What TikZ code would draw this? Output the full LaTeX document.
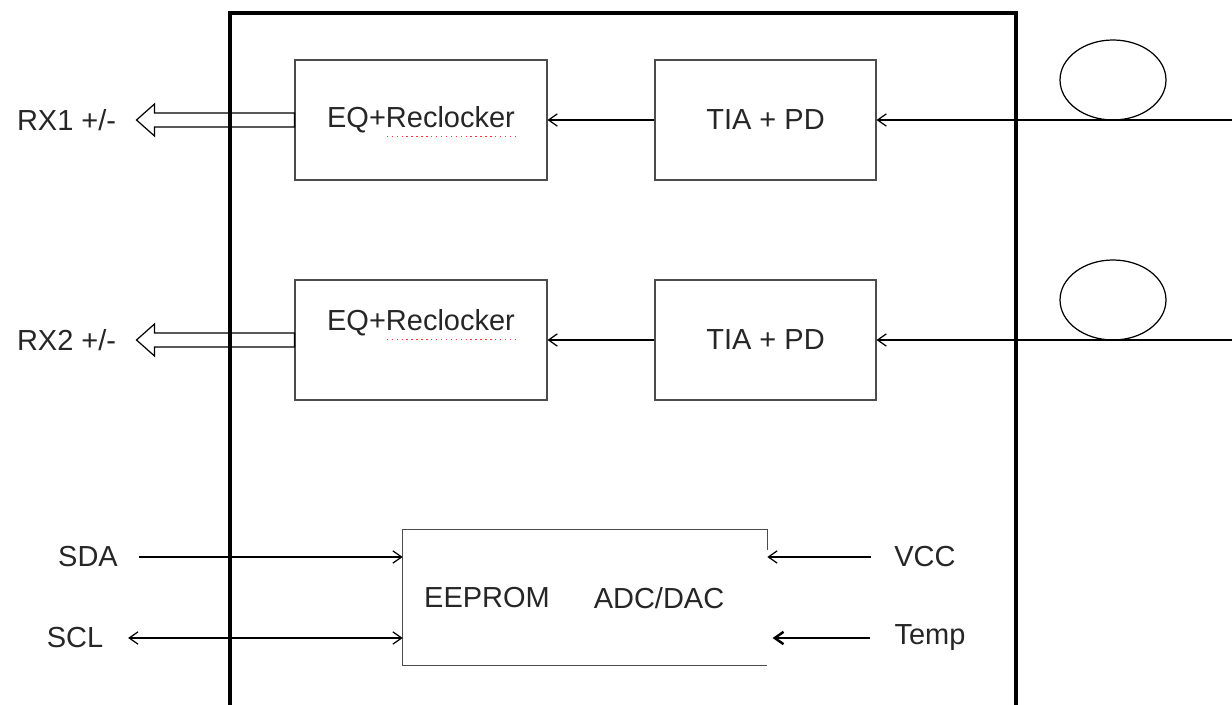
\documentclass[tikz,border=0pt]{standalone}
\usepackage{fontspec}
\setmainfont{Liberation Sans}
\usetikzlibrary{arrows.meta,calc}

\tikzset{
  blk/.style={draw=black!70,line width=0.6pt,inner sep=0pt,minimum height=2.4cm},
  lbl/.style={font=\fontsize{16.5}{19}\selectfont,text=black!85,inner sep=0pt},
  sig/.style={line width=0.7pt,-{Straight Barb[length=5pt,width=7pt]}},
}

\begin{document}
\begin{tikzpicture}[x=0.02cm,y=-0.02cm]
  \useasboundingbox (0,0) rectangle (1232,705);
  % Receiver channel 1
  \node[blk,minimum width=5.04cm] (eqa) at (421,120) {};
  \node[lbl] (eqat) at (421,120) {EQ+Reclocker};
  \node[blk,minimum width=4.42cm] (tiaa) at (765.5,120) {};
  \node[lbl] (tiaat) at (765.5,120) {TIA + PD};
  \coordinate (fa) at (1232,120);
  \draw[sig] (fa) -- (tiaa);
  \draw[sig] (tiaa) -- (eqa);
  \draw[line width=0.7pt] ($(fa)+(-119,-40)$) ellipse [x radius=1.06cm, y radius=0.8cm];
  \draw[red!80,dotted,line width=0.8pt] ($(eqat.south west)+(60,3)$) -- ($(eqat.south east)+(0,3)$);
  % Hollow output arrow RX1
  \draw[line width=0.7pt] ($(eqa.west)+(0,-7)$) -- ++(-140,0) -- ++(0,-9) -- ++(-18,16)
    -- ++(18,16) -- ++(0,-9) -- ($(eqa.west)+(0,7)$) -- cycle;
  \node[lbl,anchor=east] (rxa) at ($(eqa.west)+(-178,0)$) {RX1 +/-};
  % Receiver channel 2
  \node[blk,minimum width=5.04cm] (eqb) at (421,340) {};
  \node[lbl] (eqbt) at (421,323) {EQ+Reclocker};
  \node[blk,minimum width=4.42cm] (tiab) at (765.5,340) {};
  \node[lbl] (tiabt) at (765.5,340) {TIA + PD};
  \coordinate (fb) at (1232,340);
  \draw[sig] (fb) -- (tiab);
  \draw[sig] (tiab) -- (eqb);
  \draw[line width=0.7pt] ($(fb)+(-119,-40)$) ellipse [x radius=1.06cm, y radius=0.8cm];
  \draw[red!80,dotted,line width=0.8pt] ($(eqbt.south west)+(60,3)$) -- ($(eqbt.south east)+(0,3)$);
  % Hollow output arrow RX2
  \draw[line width=0.7pt] ($(eqb.west)+(0,-7)$) -- ++(-140,0) -- ++(0,-9) -- ++(-18,16)
    -- ++(18,16) -- ++(0,-9) -- ($(eqb.west)+(0,7)$) -- cycle;
  \node[lbl,anchor=east] (rxb) at ($(eqb.west)+(-178,0)$) {RX2 +/-};
  % Module outline
  \draw[line width=2.8pt] (230,705) -- (230,13) -- (1016,13) -- (1016,705);
  % EEPROM / ADC block
  \node[minimum width=7.28cm,minimum height=2.7cm,inner sep=0pt] (eep) at (585,597.5) {};
  \draw[draw=black!70,line width=0.6pt] ($(eep.north east)+(0,20)$) -- (eep.north east)
    -- (eep.north west) -- (eep.south west) -- (eep.south east);
  \node[lbl] (eeprom) at (487,598) {EEPROM};
  \node[lbl] (adc) at (659,598) {ADC/DAC};
  % Control and monitor lines
  \node[lbl] (sda) at (88,557) {SDA};
  \node[lbl] (scl) at (75,638) {SCL};
  \node[lbl] (vcc) at (925,557) {VCC};
  \node[lbl] (temp) at (930,638) {Temp};
  \draw[sig,shorten <=12pt] (sda.east) -- (sda.east -| eep.west);
  \draw[sig,{Straight Barb[length=5pt,width=7pt]}-{Straight Barb[length=5pt,width=7pt]},shorten <=14pt] (scl.east) -- (scl.east -| eep.west);
  \draw[sig,shorten <=13pt] (vcc.west) -- (vcc.west -| eep.east);
  \draw[sig,line width=1.4pt,shorten <=14pt,shorten >=3pt] (temp.west) -- (temp.west -| eep.east);
\end{tikzpicture}
\end{document}
